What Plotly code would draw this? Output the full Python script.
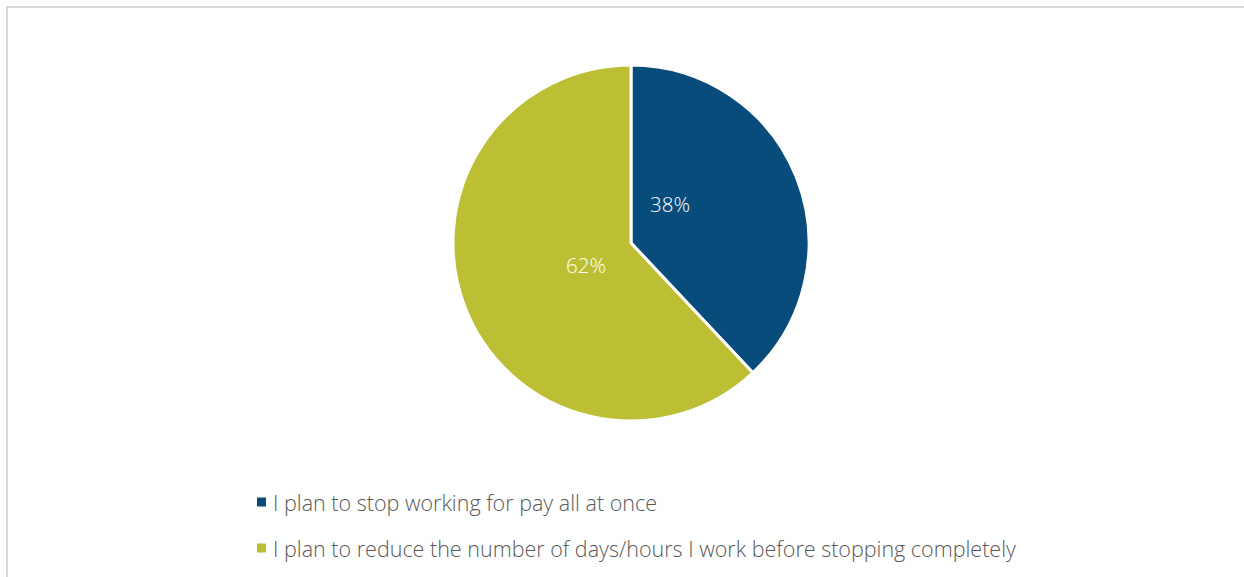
import plotly.graph_objects as go

# Retirement transition plans (share of respondents, %)
categories = [
    "I plan to stop working for pay all at once",
    "I plan to reduce the number of days/hours I work before stopping completely",
]
values = [38, 62]
colors = ["#074C7A", "#BCBF33"]

W, H = 1244, 577
FONT = "Open Sans"

fig = go.Figure()
fig.add_trace(go.Pie(
    labels=categories,
    values=values,
    sort=False,
    direction="clockwise",
    rotation=0,
    marker=dict(colors=colors, line=dict(color="white", width=3)),
    textinfo="none",
    hoverinfo="label+percent",
    showlegend=False,
    domain=dict(x=[453 / W, 809 / W], y=[1 - 421 / H, 1 - 65 / H]),
))

# value labels inside the slices
label_pos = [(670, 204), (586, 265)]
for v, (px, py) in zip(values, label_pos):
    fig.add_annotation(
        x=px / W, y=1 - py / H, xref="paper", yref="paper",
        text=f"{v}%", showarrow=False,
        font=dict(family=FONT, size=20.5, color="white", weight=300),
    )

# legend drawn below the pie
legend_rows = [502, 548]
for cat, col, py in zip(categories, colors, legend_rows):
    fig.add_shape(
        type="rect", xref="paper", yref="paper",
        x0=257 / W, x1=266 / W, y0=1 - (py + 4.5) / H, y1=1 - (py - 4.5) / H,
        fillcolor=col, line=dict(width=0),
    )
    fig.add_annotation(
        x=271 / W, y=1 - py / H, xref="paper", yref="paper",
        xanchor="left", yanchor="middle",
        text=cat, showarrow=False,
        font=dict(family=FONT, size=21.5, color="#595959", weight=300),
    )

# chart frame
fig.add_shape(
    type="rect", xref="paper", yref="paper",
    x0=7 / W, x1=1.02, y0=-0.02, y1=1 - 7 / H,
    line=dict(color="#D9D9D9", width=2), fillcolor="rgba(0,0,0,0)",
)

fig.update_layout(
    width=W, height=H,
    margin=dict(l=0, r=0, t=0, b=0),
    paper_bgcolor="white",
    plot_bgcolor="white",
)

fig.write_html("out.html")
